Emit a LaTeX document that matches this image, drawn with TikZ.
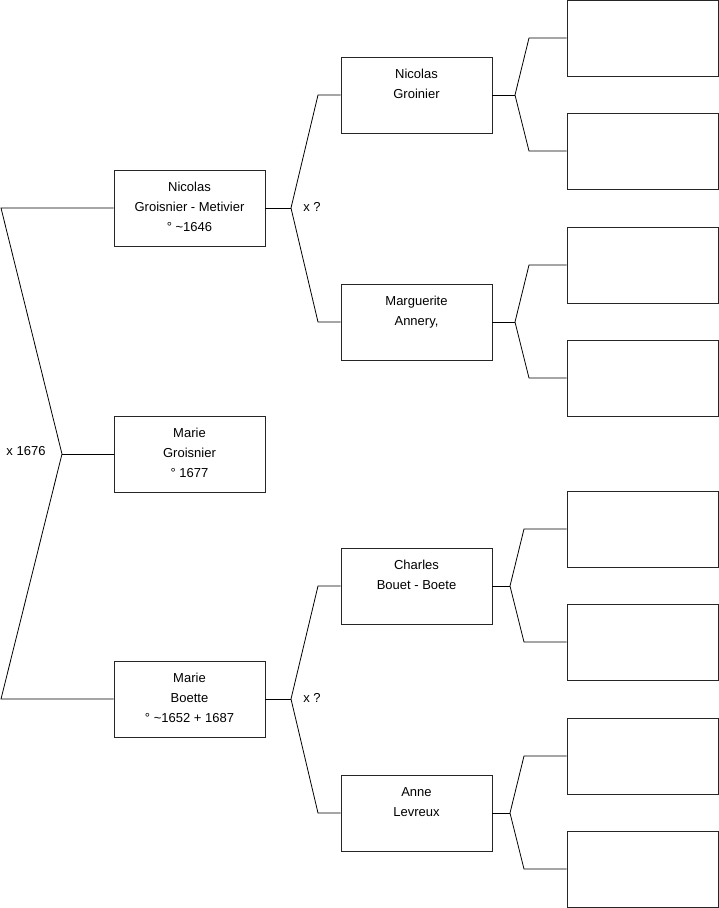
\documentclass[tikz,border=0pt]{standalone}
\usepackage{fontspec}
\setmainfont{Liberation Sans}
\begin{document}
\begin{tikzpicture}[x=1pt,y=-1pt,
  box/.style={draw=black!85,line width=0.9pt,minimum width=151pt,minimum height=76pt,inner sep=0pt},
  txt/.style={anchor=north,inner sep=0pt,align=center,font=\fontsize{13}{20}\selectfont,yshift=-12.5pt},
  lbl/.style={inner sep=0pt,font=\fontsize{13}{14}\selectfont},
  ln/.style={draw=black,line width=0.8pt}]
\useasboundingbox (0,0) rectangle (719,908);
% level 1
\node[box] (r) at (189.5,454) {};
\node[txt] at (r.north) {Marie\\Groisnier\\° 1677};
% level 2
\node[box] (f) at (189.5,208) {};
\node[txt] at (f.north) {Nicolas\\Groisnier - Metivier\\° \textasciitilde1646};
\node[box] (m) at (189.5,699) {};
\node[txt] at (m.north) {Marie\\Boette\\° \textasciitilde1652 + 1687};
% level 3
\node[box] (ff) at (416.5,95) {};
\node[txt] at (ff.north) {Nicolas\\Groinier};
\node[box] (fm) at (416.5,322) {};
\node[txt] at (fm.north) {Marguerite\\Annery,};
\node[box] (mf) at (416.5,586) {};
\node[txt] at (mf.north) {Charles\\Bouet - Boete};
\node[box] (mm) at (416.5,813) {};
\node[txt] at (mm.north) {Anne\\Levreux};
% level 4
\node[box] (a1) at (642.5,38) {};
\node[box] (a2) at (642.5,151) {};
\node[box] (a3) at (642.5,265) {};
\node[box] (a4) at (642.5,378) {};
\node[box] (a5) at (642.5,529) {};
\node[box] (a6) at (642.5,642) {};
\node[box] (a7) at (642.5,756) {};
\node[box] (a8) at (642.5,869) {};
% fork coordinates
\coordinate (v0) at (62,454);
\coordinate (v0a) at (1,208);
\coordinate (v0b) at (1,699);
\coordinate (v1) at (291,208);
\coordinate (v1a) at (318,95);
\coordinate (v1b) at (318,322);
\coordinate (v2) at (291,699);
\coordinate (v2a) at (318,586);
\coordinate (v2b) at (318,813);
\coordinate (v3) at (515,95);
\coordinate (v3a) at (529,38);
\coordinate (v3b) at (529,151);
\coordinate (v4) at (515,322);
\coordinate (v4a) at (529,265);
\coordinate (v4b) at (529,378);
\coordinate (v5) at (510,586);
\coordinate (v5a) at (524,529);
\coordinate (v5b) at (524,642);
\coordinate (v6) at (510,813);
\coordinate (v6a) at (524,756);
\coordinate (v6b) at (524,869);
% connectors
\draw[ln] (r.west) -- (v0);
\draw[ln] (f.west) -- (v0a) -- (v0) -- (v0b) -- (m.west);
\draw[ln] (f.east) -- (v1);
\draw[ln] (ff.west) -- (v1a) -- (v1) -- (v1b) -- (fm.west);
\draw[ln] (m.east) -- (v2);
\draw[ln] (mf.west) -- (v2a) -- (v2) -- (v2b) -- (mm.west);
\draw[ln] (ff.east) -- (v3);
\draw[ln] (a1.west) -- (v3a) -- (v3) -- (v3b) -- (a2.west);
\draw[ln] (fm.east) -- (v4);
\draw[ln] (a3.west) -- (v4a) -- (v4) -- (v4b) -- (a4.west);
\draw[ln] (mf.east) -- (v5);
\draw[ln] (a5.west) -- (v5a) -- (v5) -- (v5b) -- (a6.west);
\draw[ln] (mm.east) -- (v6);
\draw[ln] (a7.west) -- (v6a) -- (v6) -- (v6b) -- (a8.west);
% labels
\node[lbl] (l0) at (26,451) {x 1676};
\node[lbl] (l1) at (312,207) {x ?};
\node[lbl] (l2) at (312,698) {x ?};
\end{tikzpicture}
\end{document}
